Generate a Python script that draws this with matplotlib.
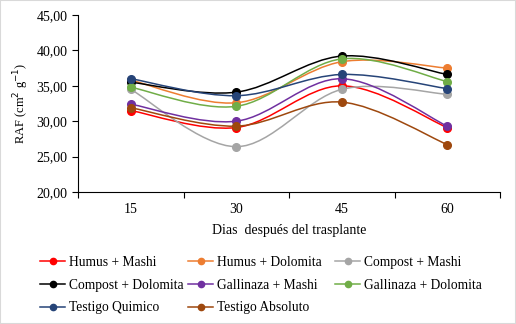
import matplotlib
matplotlib.use("Agg")
import matplotlib.pyplot as plt
import numpy as np
from matplotlib.path import Path
from matplotlib.patches import PathPatch, Rectangle
from matplotlib.lines import Line2D
from matplotlib.ticker import FuncFormatter

plt.rcParams['font.family'] = ['Liberation Serif', 'DejaVu Serif']

days = ["15", "30", "45", "60"]
series_names = ["Humus + Mashi", "Humus + Dolomita", "Compost + Mashi",
                "Compost + Dolomita", "Gallinaza + Mashi", "Gallinaza + Dolomita",
                "Testigo Quimico", "Testigo Absoluto"]
humus_mashi = [31.5, 29.1, 35.0, 29.1]
humus_dolomita = [35.8, 32.6, 38.4, 37.5]
compost_mashi = [34.5, 26.4, 34.5, 33.8]
compost_dolomita = [35.5, 34.1, 39.2, 36.6]
gallinaza_mashi = [32.4, 30.0, 36.0, 29.3]
gallinaza_dolomita = [34.8, 32.1, 38.8, 35.6]
testigo_quimico = [36.0, 33.6, 36.6, 34.6]
testigo_absoluto = [31.9, 29.3, 32.7, 26.7]
all_values = [humus_mashi, humus_dolomita, compost_mashi, compost_dolomita,
              gallinaza_mashi, gallinaza_dolomita, testigo_quimico, testigo_absoluto]
colours = ["#FF0000", "#ED7D31", "#A5A5A5", "#000000",
           "#7030A0", "#70AD47", "#264478", "#9E480E"]


def smooth_path(xs, ys):
    """Excel-like smoothed line as cubic bezier segments"""
    pts = np.column_stack([xs, ys]).astype(float)
    n = len(pts)
    verts = [pts[0]]
    codes = [Path.MOVETO]
    for i in range(n - 1):
        p0 = pts[i - 1] if i > 0 else pts[i]
        p1 = pts[i]
        p2 = pts[i + 1]
        p3 = pts[i + 2] if i + 2 < n else pts[i + 1]
        c1 = p1 + (p2 - p0) / 6
        c2 = p2 - (p3 - p1) / 6
        verts += [c1, c2, p2]
        codes += [Path.CURVE4] * 3
    return Path(verts, codes)


fig = plt.figure(figsize=(5.16, 3.24), dpi=100)
fig.patches.append(Rectangle((0, 0), 1, 1, transform=fig.transFigure, fill=False,
                             edgecolor="#D9D9D9", linewidth=1.5))
ax = fig.add_axes([78 / 516, 1 - 192 / 324, 422 / 516, 177 / 324])

x = np.arange(len(days))
for vals, col in zip(all_values, colours):
    ax.add_patch(PathPatch(smooth_path(x, vals), fill=False, edgecolor=col, linewidth=1.1))
    ax.plot(x, vals, linestyle="none", marker="o", markersize=5.5, color=col)

ax.set_xlim(-0.5, 3.5)
ax.set_ylim(20, 45)
ax.set_yticks(np.arange(20, 46, 5))
ax.yaxis.set_major_formatter(FuncFormatter(lambda v, p: f"{v:.2f}".replace(".", ",")))
ax.set_xticks(np.arange(-0.5, 3.6, 1))
ax.set_xticklabels([])
ax.set_xticks(x, minor=True)
ax.set_xticklabels(days, minor=True)
ax.tick_params(axis="x", which="major", length=4, direction="out")
ax.tick_params(axis="x", which="minor", length=0, pad=8, labelsize=10)
ax.tick_params(axis="y", length=4, labelsize=10)
for s in ["top", "right"]:
    ax.spines[s].set_visible(False)
ax.set_xlabel("Dias  después del trasplante", fontsize=10, labelpad=6)
ax.set_ylabel("RAF (cm$^{2}$ g$^{-1}$)", fontsize=9, labelpad=4)

# legend laid out row by row in three fixed columns, like the Excel original
handles = [Line2D([], [], color=c, marker="o", markersize=4.5, linewidth=1.1) for c in colours]
col_x = [40, 188, 335]
for j, cx in enumerate(col_x):
    idx = list(range(j, len(series_names), 3))
    fig.legend([handles[i] for i in idx], [series_names[i] for i in idx],
               loc="upper left", bbox_to_anchor=(cx / 516, 1 - 256 / 324),
               ncol=1, frameon=False, fontsize=9.75, handlelength=1.85,
               handletextpad=0.3, labelspacing=0.72, borderpad=0, borderaxespad=0)

fig.savefig("out.png", dpi=100)
